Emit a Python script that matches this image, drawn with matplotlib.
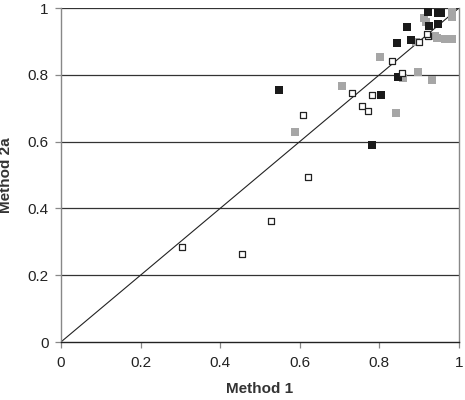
import numpy as np
import matplotlib
matplotlib.use('Agg')
import matplotlib.pyplot as plt

plt.rcParams['font.family'] = ['Liberation Sans', 'DejaVu Sans']

# black filled squares
black_x = [0.548, 0.781, 0.804, 0.846, 0.844, 0.879, 0.869, 0.922, 0.947, 0.955, 0.925, 0.947]
black_y = [0.754, 0.590, 0.740, 0.793, 0.895, 0.904, 0.943, 0.988, 0.985, 0.985, 0.946, 0.952]

# gray filled squares
gray_x = [0.588, 0.706, 0.841, 0.802, 0.860, 0.898, 0.932, 0.891, 0.913, 0.917,
          0.940, 0.944, 0.965, 0.983, 0.982, 0.983]
gray_y = [0.629, 0.766, 0.685, 0.854, 0.789, 0.808, 0.784, 0.897, 0.969, 0.959,
          0.916, 0.909, 0.907, 0.907, 0.996, 0.972]

# open squares
open_x = [0.607, 0.731, 0.781, 0.757, 0.771, 0.833, 0.858, 0.900, 0.922, 0.920,
          0.622, 0.527, 0.303, 0.456]
open_y = [0.681, 0.746, 0.740, 0.708, 0.693, 0.842, 0.804, 0.899, 0.915, 0.921,
          0.494, 0.362, 0.285, 0.264]

ticks = [0, 0.2, 0.4, 0.6, 0.8, 1]
tick_labels = ['0', '0.2', '0.4', '0.6', '0.8', '1']

fig = plt.figure(figsize=(4.65, 4.0), dpi=100)
ax = fig.add_axes([0.131, 0.145, 0.856, 0.835])

# horizontal gridlines
for t in ticks[1:]:
    ax.axhline(t, color='#333333', linewidth=0.9, zorder=1)

# 1:1 line
ax.plot([0, 1], [0, 1], color='#222222', linewidth=0.8, zorder=2)

ax.scatter(gray_x, gray_y, marker='s', s=26, color='#a6a6a6', linewidths=0, zorder=3)
ax.scatter(black_x, black_y, marker='s', s=26, color='#1a1a1a', linewidths=0, zorder=4)
ax.scatter(open_x, open_y, marker='s', s=20, facecolor='white', edgecolor='#222222',
           linewidths=0.9, zorder=5)

ax.set_xlim(0, 1)
ax.set_ylim(0, 1)
ax.set_xticks(ticks)
ax.set_xticklabels(tick_labels)
ax.set_yticks(ticks)
ax.set_yticklabels(tick_labels)
ax.tick_params(axis='both', labelsize=11, colors='#222222', length=4, width=0.9)
ax.tick_params(axis='y', color='#888888', pad=5)
ax.tick_params(axis='x', color='#888888', pad=6)

ax.spines['top'].set_visible(False)
ax.spines['left'].set_color('#888888')
ax.spines['right'].set_color('#888888')
ax.spines['bottom'].set_color('#222222')
for sp in ax.spines.values():
    sp.set_linewidth(1.0)

ax.set_xlabel('Method 1', fontsize=11, fontweight='bold', color='#333333', labelpad=9)
ax.set_ylabel('Method 2a', fontsize=11, fontweight='bold', color='#333333', labelpad=10)

fig.savefig('out.png', dpi=100)
